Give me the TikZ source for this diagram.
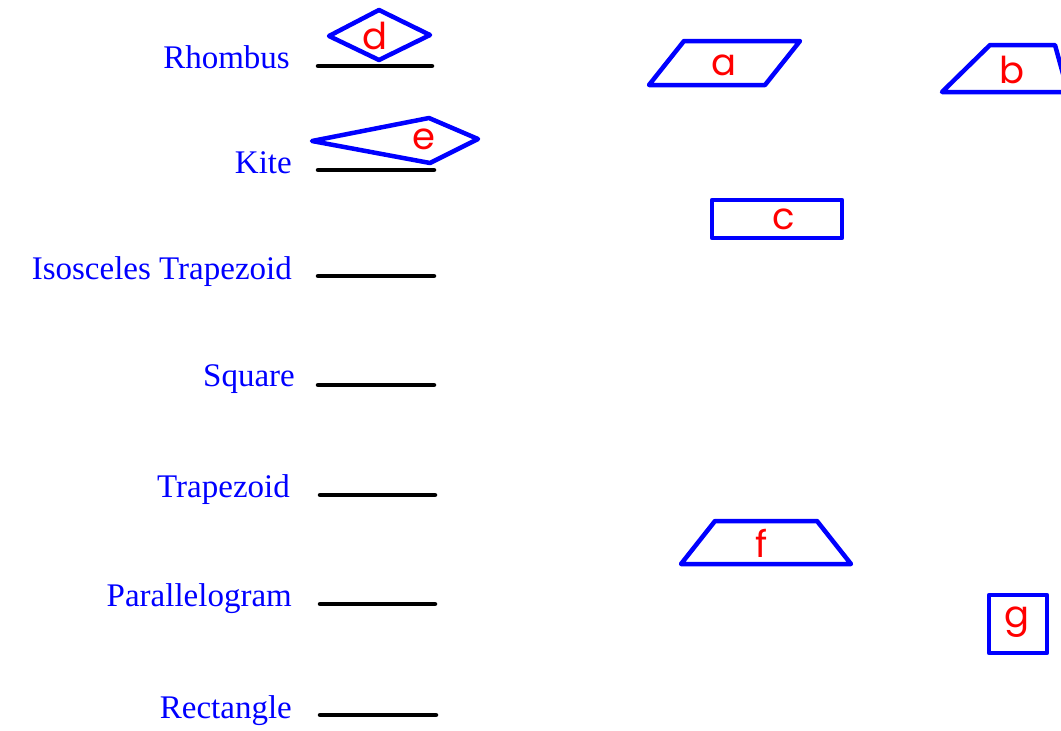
\documentclass[tikz,border=0pt]{standalone}
\usepackage{fontspec}
\newfontfamily\handfont{Liberation Serif}
\newfontfamily\letterfont{Poppins}
\begin{document}
\begin{tikzpicture}[x=1pt,y=-1pt,
  shp/.style={draw=blue, line width=4.5pt, line join=round},
  blank/.style={draw=black, line width=4.5pt, line cap=round},
  qname/.style={anchor=base east, text=blue, font=\handfont\fontsize{33}{38}\selectfont, inner sep=0pt},
  letter/.style={text=red, font=\letterfont\fontsize{37}{42}\selectfont, inner sep=0pt}]
\useasboundingbox (0,0) rectangle (1061,731);
\clip (0,0) rectangle (1061,731);
% names
\node[qname] (n1) at (290,68) {Rhombus};
\node[qname] (n2) at (292,173) {Kite};
\node[qname] (n3) at (292,279) {Isosceles Trapezoid};
\node[qname] (n4) at (295,386) {Square};
\node[qname] (n5) at (290,497) {Trapezoid};
\node[qname] (n6) at (292,606) {Parallelogram};
\node[qname] (n7) at (292,718) {Rectangle};
% blanks
\coordinate (b1s) at (318,66);  \coordinate (b1e) at (432,66);
\coordinate (b2s) at (318,170); \coordinate (b2e) at (434,170);
\coordinate (b3s) at (318,276); \coordinate (b3e) at (434,276);
\coordinate (b4s) at (318,385); \coordinate (b4e) at (434,385);
\coordinate (b5s) at (320,495); \coordinate (b5e) at (435,495);
\coordinate (b6s) at (320,604); \coordinate (b6e) at (435,604);
\coordinate (b7s) at (320,715); \coordinate (b7e) at (436,715);
\foreach \i in {1,...,7} \draw[blank] (b\i s) -- (b\i e);
% shapes
\draw[shp] (329,36) -- (379,10) -- (430,35) -- (379,60) -- cycle;
\draw[shp] (312,141) -- (429,118) -- (478,139) -- (430,163) -- cycle;
\draw[shp] (649,85) -- (684,41) -- (800,41) -- (765,85) -- cycle;
\draw[shp] (942,92) -- (990,45) -- (1055,45) -- (1068,92) -- cycle;
\draw[shp] (712,200) rectangle (842,238);
\draw[shp] (681,564) -- (715,521) -- (817,521) -- (851,564) -- cycle;
\draw[shp] (989,595) rectangle (1047,653);
% letters
\node[letter] (ld) at (375,36) {d};
\node[letter] (le) at (424,139) {e};
\node[letter] (la) at (724,65) {a};
\node[letter] (lb) at (1012,70) {b};
\node[letter] (lc) at (784,219) {c};
\node[letter] (lf) at (762,543) {f};
\node[letter] (lg) at (1017,622) {g};
\end{tikzpicture}
\end{document}
